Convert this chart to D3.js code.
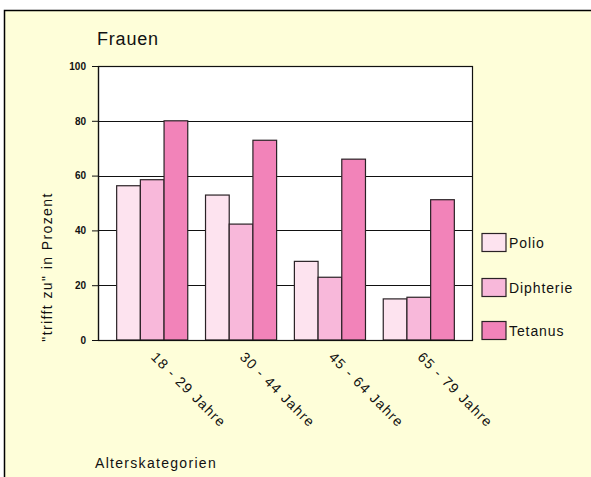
<!DOCTYPE html>
<html>
<head>
<meta charset="utf-8">
<script src="https://cdn.jsdelivr.net/npm/d3@7"></script>
<style>
  html, body { margin: 0; padding: 0; background: #ffffff; }
  svg { display: block; font-family: "Liberation Sans", Arial, sans-serif; }
</style>
</head>
<body>
<svg id="chart" width="591" height="477"></svg>
<script>
// Altersgruppen und Anteile ("trifft zu", in Prozent)
const categories = ["18 - 29 Jahre", "30 - 44 Jahre", "45 - 64 Jahre", "65 - 79 Jahre"];
const seriesNames = ["Polio", "Diphterie", "Tetanus"];
const polio     = [56.3, 52.9, 28.7, 15.0];
const diphterie = [58.5, 42.3, 22.9, 15.6];
const tetanus   = [80.0, 72.9, 66.0, 51.2];
const yTicks = [0, 20, 40, 60, 80, 100];
const colors = ["#fde3ef", "#f8b8da", "#f283b9"];

const values = [polio, diphterie, tetanus];
const rows = categories.map((c, i) => ({
  category: c,
  items: seriesNames.map((s, k) => ({ series: s, value: values[k][i], color: colors[k] }))
}));

const svg = d3.select("#chart");

// Chart frame
svg.append("rect")
  .attr("x", 4.5).attr("y", 10.5)
  .attr("width", 620).attr("height", 500)
  .attr("fill", "#fefed9")
  .attr("stroke", "#000").attr("stroke-width", 1.5);

const plot = { left: 98, top: 66, right: 473, bottom: 340 };

const x = d3.scaleBand()
  .domain(categories)
  .range([plot.left, plot.right])
  .paddingInner(0.2)
  .paddingOuter(0.21);

const xs = d3.scaleBand()
  .domain(seriesNames)
  .range([0, x.bandwidth()]);

const y = d3.scaleLinear().domain([0, 100]).range([plot.bottom, plot.top]);

// Plot area
svg.append("rect")
  .attr("x", plot.left).attr("y", plot.top)
  .attr("width", plot.right - plot.left).attr("height", plot.bottom - plot.top)
  .attr("fill", "#ffffff");

// Gridlines
svg.append("g")
  .selectAll("line")
  .data(yTicks.filter(t => t > 0 && t < 100))
  .join("line")
  .attr("x1", plot.left).attr("x2", plot.right)
  .attr("y1", d => Math.round(y(d)) + 0.5).attr("y2", d => Math.round(y(d)) + 0.5)
  .attr("stroke", "#111").attr("stroke-width", 1);

// Bars
const groups = svg.append("g")
  .selectAll("g")
  .data(rows)
  .join("g")
  .attr("transform", d => `translate(${x(d.category)},0)`);

groups.selectAll("rect")
  .data(d => d.items)
  .join("rect")
  .attr("x", d => xs(d.series))
  .attr("y", d => y(d.value))
  .attr("width", xs.bandwidth())
  .attr("height", d => plot.bottom - y(d.value))
  .attr("fill", d => d.color)
  .attr("stroke", "#2a2226").attr("stroke-width", 1.2);

// Plot border
svg.append("rect")
  .attr("x", plot.left + 0.5).attr("y", plot.top + 0.5)
  .attr("width", plot.right - plot.left - 1).attr("height", plot.bottom - plot.top)
  .attr("fill", "none")
  .attr("stroke", "#111").attr("stroke-width", 1.2);

// Y axis
const yAxis = svg.append("g")
  .attr("transform", `translate(${plot.left},0)`)
  .call(d3.axisLeft(y).tickValues(yTicks).tickSize(6).tickPadding(6).tickSizeOuter(0));
yAxis.select(".domain").attr("stroke", "#111").attr("stroke-width", 1.2);
yAxis.selectAll(".tick line").attr("stroke", "#111");
yAxis.selectAll(".tick text")
  .attr("font-size", "10px").attr("font-weight", "bold").attr("fill", "#111")
  .attr("font-family", "'Liberation Sans', Arial, sans-serif");

// Category labels (rotated)
svg.append("g")
  .selectAll("text")
  .data(categories)
  .join("text")
  .attr("transform", d => `translate(${x(d) + x.bandwidth() / 2 - 2},358) rotate(45)`)
  .attr("font-size", "14px")
  .attr("letter-spacing", "1.3px")
  .attr("fill", "#111")
  .text(d => d);

// Title
svg.append("text")
  .attr("x", 97).attr("y", 45)
  .attr("font-size", "18px").attr("letter-spacing", "0.8px")
  .attr("fill", "#111")
  .text("Frauen");

// Axis titles
svg.append("text")
  .attr("transform", "translate(52,267) rotate(-90)")
  .attr("text-anchor", "middle")
  .attr("font-size", "14px").attr("letter-spacing", "1.4px")
  .attr("fill", "#111")
  .text("\"trifft zu\" in Prozent");

svg.append("text")
  .attr("x", 95).attr("y", 468)
  .attr("font-size", "14px").attr("letter-spacing", "1.3px")
  .attr("fill", "#111")
  .text("Alterskategorien");

// Legend
const legendY = [242.5, 287.5, 330.5];
const legend = svg.append("g")
  .selectAll("g")
  .data(seriesNames)
  .join("g")
  .attr("transform", (d, i) => `translate(482,${legendY[i]})`);

legend.append("rect")
  .attr("x", 0).attr("y", -9)
  .attr("width", 24).attr("height", 18)
  .attr("fill", (d, i) => colors[i])
  .attr("stroke", "#2a2226").attr("stroke-width", 1.2);

legend.append("text")
  .attr("x", 27).attr("y", 5)
  .attr("font-size", "14px").attr("letter-spacing", "0.9px")
  .attr("fill", "#111")
  .text(d => d);
</script>
</body>
</html>
